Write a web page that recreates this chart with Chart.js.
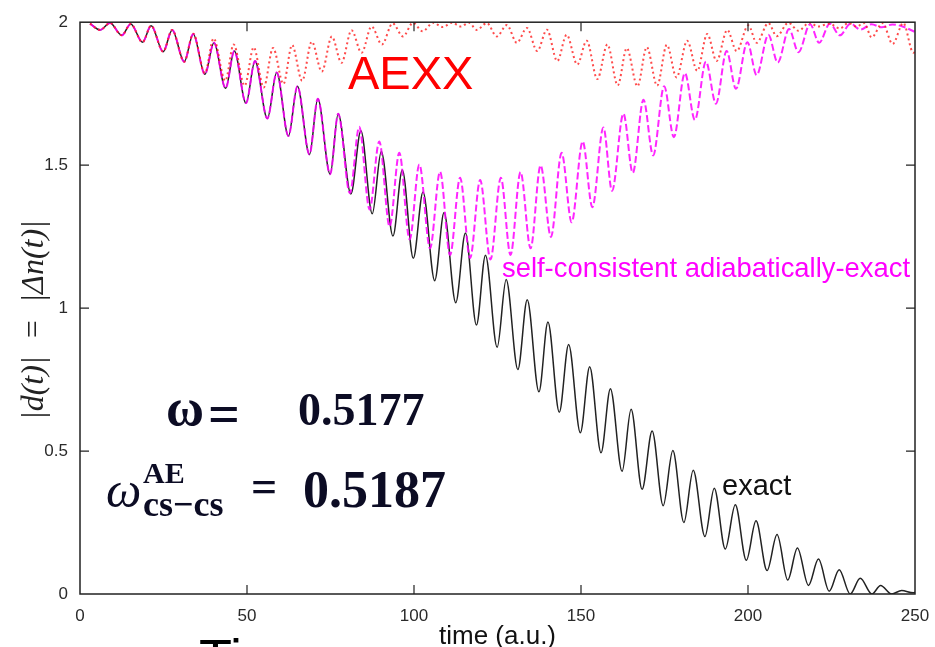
<!DOCTYPE html>
<html>
<head>
    <title>AEXX dipole</title>
    <script src="https://cdn.jsdelivr.net/npm/chart.js"></script>
    <style>
        body { margin: 0; background: #fff; }
    </style>
</head>
<body>
    <canvas id="dipoleChart" width="935" height="647"></canvas>
    <script>
        // values: peak / trough points of each curve
        const exactT = [3, 6.0, 9.0, 12.5, 15.2, 18.7, 21.3, 24.9, 27.6, 31.2, 33.9, 37.4, 40.1, 43.6, 46.2, 49.7, 52.4, 56.1, 58.9, 62.4,
            65.1, 68.7, 71.2, 74.9, 77.3, 81.1, 84.1, 87.5, 90.2, 93.7, 96.5, 99.8, 102.7, 106.2, 109.0, 112.5, 115.4, 118.7, 121.4, 124.9,
            127.6, 131.1, 133.9, 137.4, 140.1, 143.5, 146.3, 149.8, 152.6, 156.0, 158.8, 162.3, 165.0, 168.3, 171.3, 174.6, 177.5, 180.8, 183.6, 187.1,
            189.9, 193.2, 196.2, 199.5, 202.4, 205.7, 208.7, 211.9, 214.8, 218.1, 221.1, 224.3, 227.3, 230.6, 233.6, 237.1, 239.7, 243.0, 246.0, 249.5, 250];
        const exactV = [1.995, 1.973, 1.997, 1.954, 1.994, 1.930, 1.988, 1.897, 1.973, 1.862, 1.959, 1.818, 1.928, 1.769, 1.899, 1.717, 1.864, 1.663, 1.824, 1.602,
            1.776, 1.537, 1.732, 1.468, 1.680, 1.399, 1.620, 1.330, 1.548, 1.252, 1.483, 1.174, 1.406, 1.096, 1.334, 1.019, 1.263, 0.941, 1.185, 0.863,
            1.100, 0.785, 1.029, 0.707, 0.951, 0.636, 0.873, 0.564, 0.795, 0.494, 0.718, 0.429, 0.646, 0.366, 0.570, 0.309, 0.502, 0.250, 0.433, 0.201,
            0.370, 0.157, 0.312, 0.118, 0.256, 0.082, 0.208, 0.049, 0.161, 0.030, 0.122, 0.010, 0.085, 0.0, 0.055, 0.0, 0.030, 0.0, 0.012, 0.004, 0.006];

        const aeT = [3, 6.0, 9.0, 12.5, 15.2, 18.7, 21.3, 24.9, 27.6, 31.2, 33.9, 37.4, 40.1, 43.6, 46.2, 49.7, 52.4, 56.1, 58.9, 62.4,
            65.1, 68.7, 71.2, 74.9, 77.3, 80.8, 83.6, 86.7, 89.6, 92.7, 95.6, 98.7, 101.6, 104.8, 107.8, 110.8, 113.8, 116.8, 119.8, 122.9,
            126.0, 128.9, 131.9, 134.9, 137.9, 141.0, 144.2, 147.2, 150.5, 153.4, 156.7, 159.3, 162.7, 165.5, 168.7, 171.6, 174.9, 177.8, 181.1, 184.1,
            187.4, 190.4, 193.6, 196.4, 199.8, 202.6, 206.1, 208.9, 212.3, 215.1, 218.6, 221.3, 224.5, 227.5, 230.7, 233.7, 237.0, 240.0, 243.2, 246.3, 250];
        const aeV = [1.995, 1.973, 1.997, 1.954, 1.994, 1.930, 1.988, 1.897, 1.973, 1.862, 1.959, 1.818, 1.928, 1.769, 1.899, 1.717, 1.864, 1.663, 1.824, 1.602,
            1.776, 1.537, 1.732, 1.468, 1.680, 1.402, 1.634, 1.345, 1.583, 1.285, 1.543, 1.240, 1.502, 1.209, 1.477, 1.186, 1.456, 1.175, 1.448, 1.170,
            1.456, 1.186, 1.476, 1.209, 1.499, 1.249, 1.543, 1.300, 1.583, 1.353, 1.632, 1.410, 1.680, 1.473, 1.729, 1.534, 1.776, 1.598, 1.822, 1.658,
            1.862, 1.715, 1.899, 1.767, 1.930, 1.815, 1.956, 1.859, 1.976, 1.895, 1.993, 1.928, 1.995, 1.954, 1.995, 1.974, 1.993, 1.982, 1.992, 1.985, 1.966];

        const aexxT = [3, 6.0, 9.0, 12.5, 15.2, 18.7, 21.3, 24.9, 27.6, 31.2, 33.9, 37.4, 40.0, 43.5, 46.0, 49.3, 52.0, 55.0, 57.8, 60.9,
            63.5, 66.5, 69.4, 72.4, 75.4, 78.3, 81.3, 84.3, 87.3, 90.4, 93.6, 96.7, 99.7, 102.6, 105.7, 108.6, 111.4, 114.0, 116.5, 118.8,
            121.8, 124.8, 127.8, 130.8, 133.8, 136.9, 139.8, 142.9, 145.7, 148.9, 151.7, 154.9, 157.9, 161.0, 163.7, 166.9, 169.7, 172.8, 175.7, 178.6,
            181.8, 184.8, 187.8, 190.6, 193.8, 196.6, 200.1, 202.6, 206.1, 208.6, 212.1, 215.1, 218.4, 221.0, 224.4, 227.5, 230.0, 232.5, 234.8, 237.0,
            240.3, 243.3, 246.5, 249.5, 250];
        const aexxV = [1.995, 1.973, 1.997, 1.954, 1.994, 1.930, 1.988, 1.897, 1.973, 1.862, 1.960, 1.822, 1.943, 1.795, 1.922, 1.778, 1.912, 1.772, 1.910, 1.784,
            1.920, 1.795, 1.932, 1.827, 1.950, 1.858, 1.972, 1.893, 1.985, 1.922, 1.996, 1.950, 1.998, 1.968, 1.998, 1.983, 1.998, 1.985, 1.998, 1.973,
            1.997, 1.950, 1.990, 1.928, 1.980, 1.899, 1.974, 1.864, 1.956, 1.852, 1.935, 1.801, 1.922, 1.779, 1.909, 1.776, 1.913, 1.778, 1.921, 1.807,
            1.935, 1.830, 1.959, 1.864, 1.973, 1.899, 1.989, 1.928, 1.997, 1.951, 1.998, 1.970, 1.998, 1.985, 1.995, 1.978, 1.997, 1.985, 1.997, 1.947,
            1.997, 1.924, 1.997, 1.893, 1.895];

        const xTicks = [0, 50, 100, 150, 200, 250];
        const yTicks = [0, 0.5, 1, 1.5, 2];

        const toPoints = (ts, vs) => ts.map((t, i) => ({ x: t, y: vs[i] }));

        // frame, inward tick marks and the text written on the plot
        const decorations = {
            id: 'decorations',
            afterDraw(chart) {
                const ctx = chart.ctx;
                const a = chart.chartArea;
                const x = chart.scales.x, y = chart.scales.y;
                ctx.save();
                ctx.strokeStyle = '#222';
                ctx.lineWidth = 1.5;
                ctx.strokeRect(a.left, a.top, a.right - a.left, a.bottom - a.top);
                ctx.lineWidth = 1.2;
                ctx.beginPath();
                xTicks.slice(1, -1).forEach(v => {
                    const px = x.getPixelForValue(v);
                    ctx.moveTo(px, a.bottom); ctx.lineTo(px, a.bottom - 9);
                    ctx.moveTo(px, a.top); ctx.lineTo(px, a.top + 9);
                });
                yTicks.slice(1, -1).forEach(v => {
                    const py = y.getPixelForValue(v);
                    ctx.moveTo(a.left, py); ctx.lineTo(a.left + 9, py);
                    ctx.moveTo(a.right, py); ctx.lineTo(a.right - 9, py);
                });
                ctx.stroke();

                ctx.textBaseline = 'alphabetic';
                ctx.textAlign = 'left';
                ctx.fillStyle = '#ff0000';
                ctx.font = '47px "Liberation Sans", Arial, sans-serif';
                ctx.fillText('AEXX', 348, 89);

                ctx.fillStyle = '#ff00ff';
                ctx.font = '27.4px "Liberation Sans", Arial, sans-serif';
                ctx.fillText('self-consistent adiabatically-exact', 502, 277);

                ctx.fillStyle = '#111';
                ctx.font = '29px "Liberation Sans", Arial, sans-serif';
                ctx.fillText('exact', 722, 495);

                // frequencies
                ctx.fillStyle = '#0c0c24';
                ctx.font = 'bold 52px "Liberation Serif", "Times New Roman", serif';
                ctx.fillText('\u03c9', 166, 425);
                ctx.font = 'bold 56px "Liberation Serif", "Times New Roman", serif';
                ctx.fillText('=', 208, 433);
                ctx.font = 'bold 46px "Liberation Serif", "Times New Roman", serif';
                ctx.fillText('0.5177', 298, 425);

                ctx.font = 'italic 50px "Liberation Serif", "Times New Roman", serif';
                ctx.fillText('\u03c9', 106, 507);
                ctx.font = 'bold 30px "Liberation Serif", "Times New Roman", serif';
                ctx.fillText('AE', 143, 483);
                ctx.font = 'bold 36px "Liberation Serif", "Times New Roman", serif';
                ctx.fillText('cs\u2212cs', 143, 516);
                ctx.font = 'bold 46px "Liberation Serif", "Times New Roman", serif';
                ctx.fillText('=', 251, 502);
                ctx.font = 'bold 52px "Liberation Serif", "Times New Roman", serif';
                ctx.fillText('0.5187', 303, 507);

                // slide text cut off by the lower edge
                ctx.fillStyle = '#000';
                ctx.font = '54px "Liberation Sans", Arial, sans-serif';
                ctx.fillText('Ti', 199, 677);
                ctx.restore();
            }
        };

        const ctx = document.getElementById('dipoleChart').getContext('2d');
        new Chart(ctx, {
            type: 'line',
            data: {
                datasets: [
                    {
                        label: 'AEXX',
                        data: toPoints(aexxT, aexxV),
                        borderColor: 'rgba(255, 30, 30, 0.8)',
                        borderWidth: 2,
                        borderDash: [2, 3]
                    },
                    {
                        label: 'self-consistent adiabatically-exact',
                        data: toPoints(aeT, aeV),
                        borderColor: 'rgba(255, 0, 255, 0.85)',
                        borderWidth: 2,
                        borderDash: [7, 3]
                    },
                    {
                        label: 'exact',
                        data: toPoints(exactT, exactV),
                        borderColor: '#222',
                        borderWidth: 1.5
                    }
                ]
            },
            options: {
                responsive: false,
                animation: false,
                layout: { padding: { left: 0, top: 14, right: 20, bottom: 0 } },
                elements: {
                    point: { radius: 0 },
                    line: { cubicInterpolationMode: 'monotone', fill: false }
                },
                plugins: {
                    legend: { display: false },
                    tooltip: { enabled: false }
                },
                scales: {
                    x: {
                        type: 'linear',
                        min: 0,
                        max: 250,
                        afterBuildTicks: s => { s.ticks = xTicks.map(v => ({ value: v })); },
                        afterFit: s => { s.height = 53; s.paddingLeft = 0; s.paddingRight = 0; },
                        grid: { display: false, drawTicks: false },
                        border: { display: false },
                        ticks: {
                            padding: 12,
                            color: '#2a2a2a',
                            font: { family: '"Liberation Sans", Arial, sans-serif', size: 17 },
                            maxRotation: 0,
                            callback: v => String(v)
                        },
                        title: {
                            display: true,
                            text: 'time (a.u.)',
                            color: '#111',
                            font: { family: '"Liberation Sans", Arial, sans-serif', size: 26, lineHeight: 0.8 },
                            padding: 0
                        }
                    },
                    y: {
                        type: 'linear',
                        min: 0,
                        max: 2,
                        afterBuildTicks: s => { s.ticks = yTicks.map(v => ({ value: v })); },
                        afterFit: s => { s.width = 80; },
                        grid: { display: false, drawTicks: false },
                        border: { display: false },
                        ticks: {
                            padding: 12,
                            color: '#2a2a2a',
                            font: { family: '"Liberation Sans", Arial, sans-serif', size: 17 },
                            callback: v => String(v)
                        },
                        title: {
                            display: true,
                            text: '|d(t)|  =  |\u0394n(t)|   ',
                            color: '#222',
                            font: { family: '"Liberation Serif", "Times New Roman", serif', style: 'italic', size: 32 },
                            padding: { top: 15, bottom: 0 }
                        }
                    }
                }
            },
            plugins: [decorations]
        });
    </script>
</body>
</html>
